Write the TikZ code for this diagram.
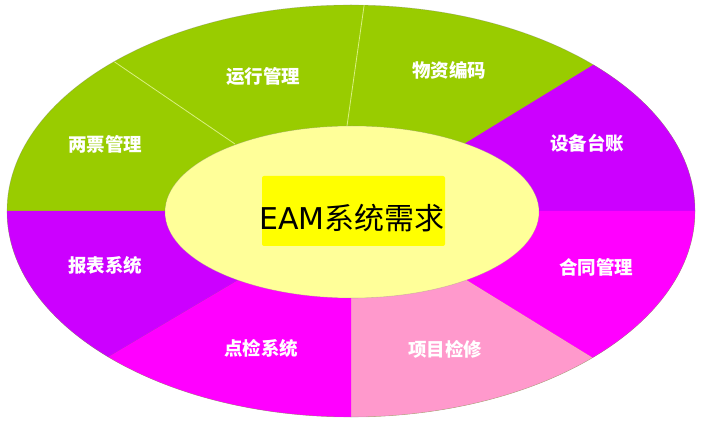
\documentclass[tikz,border=0pt]{standalone}
\usepackage{fontspec}
\newfontfamily\cjk{Noto Sans CJK SC}
\newfontfamily\latinf{DejaVu Sans}
\definecolor{grn}{HTML}{99CC00}
\definecolor{purp}{HTML}{CC00FF}
\definecolor{mag}{HTML}{FF00FF}
\definecolor{pnk}{HTML}{FF99CC}
\definecolor{inner}{HTML}{FFFF99}
\definecolor{hilite}{HTML}{FFFF00}
\definecolor{divline}{HTML}{D8F080}
\tikzset{
  lbl/.style={font=\cjk\bfseries\fontsize{18.5}{20}\selectfont, text=white, inner sep=0pt},
  ctr/.style={font=\fontsize{30}{33}\selectfont, text=black, inner sep=0pt},
  divider/.style={draw=divline, line width=0.8pt}
}
\begin{document}
\begin{tikzpicture}[x=1pt,y=-1pt]
\useasboundingbox (0,0) rectangle (702,422);
\coordinate (C) at (351,211);
\begin{scope}
  \clip (351,211) ellipse [x radius=344, y radius=206];
  \fill[grn] (-60,-60) rectangle (760,480);
  \fill[purp] (C) -- (464,144) -- (722,-14) -- (760,-14) -- (760,211) -- cycle;
  \fill[mag] (C) -- (760,211) -- (760,435) -- (718,435) -- (468,281) -- cycle;
  \fill[pnk] (C) -- (468,281) -- (718,435) -- (718,470) -- (351,470) -- cycle;
  \fill[mag] (C) -- (351,470) -- (-7,470) -- (-7,425) -- (233,283) -- cycle;
  \fill[purp] (C) -- (233,283) -- (-7,425) -- (-60,425) -- (-60,211) -- cycle;
  \coordinate (d1a) at (235,144);
  \coordinate (d1b) at (100,52);
  \coordinate (d2a) at (347,126);
  \coordinate (d2b) at (366,-8);
  \draw[divider] (d1a) -- (d1b);
  \draw[divider] (d2a) -- (d2b);
\end{scope}
\draw[gray, opacity=0.35, line width=0.6pt] (351,211) ellipse [x radius=344, y radius=206];
\fill[inner] (352,212) ellipse [x radius=187, y radius=86];
\draw[gray, opacity=0.3, line width=0.6pt] (352,212) ellipse [x radius=187, y radius=86];
\fill[hilite, rounded corners=2pt] (262,176) rectangle (445,246);
\node[ctr] (title) at (352,218) {\latinf EAM\cjk 系统需求};
\node[lbl] (n1) at (105,144) {两票管理};
\node[lbl] (n2) at (263,77) {运行管理};
\node[lbl] (n3) at (449,70) {物资编码};
\node[lbl] (n4) at (587,143) {设备台账};
\node[lbl] (n5) at (596,267) {合同管理};
\node[lbl] (n6) at (445,349) {项目检修};
\node[lbl] (n7) at (261,348) {点检系统};
\node[lbl] (n8) at (105,265) {报表系统};
\end{tikzpicture}
\end{document}
